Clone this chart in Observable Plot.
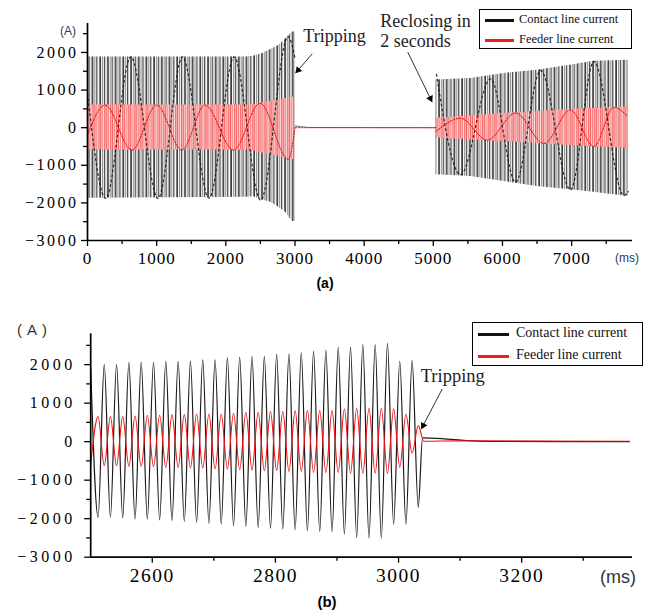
<!DOCTYPE html>
<html><head><meta charset="utf-8">
<script src="https://cdn.jsdelivr.net/npm/d3@7"></script>
<script src="https://cdn.jsdelivr.net/npm/@observablehq/plot@0.6"></script>
<style>
html,body{margin:0;padding:0;background:#fff;}
#wrap{position:relative;width:654px;height:615px;overflow:hidden;font-family:"Liberation Serif",serif;}
#wrap svg{position:absolute;left:0;}
.lbl{position:absolute;white-space:nowrap;line-height:1;}
.legend{position:absolute;border:1px solid #000;background:#fff;box-sizing:border-box;}
.legend .sw{position:absolute;height:3px;}
.legend .tx{position:absolute;white-space:nowrap;line-height:1;transform:translateY(-50%);color:#111;font-family:"Liberation Serif",serif;}
.pa [aria-label="y-axis tick label"] text{letter-spacing:2.5px;}
.pa [aria-label="x-axis tick label"] text{letter-spacing:1px;}
.pb [aria-label="y-axis tick label"] text{letter-spacing:3.5px;}
.pb [aria-label="x-axis tick label"] text{letter-spacing:1.5px;}
</style></head><body><div id="wrap"></div>
<script>
// ---------- shared ----------
const seriesNames = ["Contact line current", "Feeder line current"];
const seriesColors = ["#111111", "#ee1c1c"];
const SERIF = "Liberation Serif";

// ---------- panel (a): 0–7.8 s, trip at ~3 s, reclose at ~5 s ----------
const aXMajor = [0, 1000, 2000, 3000, 4000, 5000, 6000, 7000];
const aXMinor = [500, 1500, 2500, 3500, 4500, 5500, 6500, 7500];
const aYMajor = [-3000, -2000, -1000, 0, 1000, 2000];
const aYMinor = [-2500, -1500, -500, 500, 1500, 2500];
const aXDomain = [0, 7880];
const aYDomain = [-3000, 2770];

// envelope of the dense 50 Hz contact-line oscillation (A)
const aContactEnvT  = [0, 2300, 2400, 2530, 2650, 2770, 2870, 2960, 3005];
const aContactEnvUp = [1880, 1880, 1900, 1973, 2080, 2194, 2371, 2546, 2546];
const aContactEnvLo = [-1875, -1850, -1840, -1920, -1985, -2120, -2260, -2493, -2493];
const aContactEnv2T  = [5040, 5540, 6020, 6500, 6980, 7320, 7820];
const aContactEnv2Up = [1265, 1310, 1443, 1530, 1663, 1769, 1796];
const aContactEnv2Lo = [-1255, -1300, -1432, -1565, -1653, -1720, -1830];
// envelope of the feeder-line oscillation (A)
const aFeederEnvT  = [0, 2340, 3000];
const aFeederEnvUp = [600, 600, 822];
const aFeederEnvLo = [-595, -595, -859];
const aFeederEnv2T  = [5040, 5590, 6070, 6840, 7810];
const aFeederEnv2Up = [248, 318, 382, 470, 557];
const aFeederEnv2Lo = [-265, -326, -371, -459, -546];
const aContactTraceT  = [0, 264, 626, 1020, 1373, 1757, 2119, 2504, 2900, 3005];
const aContactTraceV  = [900, -1880, 1880, -1880, 1880, -1870, 1880, -1930, 2420, 1800];
const aContactTrace2T = [5045, 5394, 5828, 6190, 6551, 6984, 7321, 7755, 7820];
const aContactTrace2V = [1420, -1250, 1300, -1450, 1520, -1650, 1760, -1800, -1700];
const aFeederTraceT  = [0, 255, 640, 1001, 1363, 1700, 2110, 2494, 2904, 3000];
const aFeederTraceV  = [-194, 600, -595, 600, -595, 600, -595, 650, -840, 0];
const aFeederTrace2T = [5040, 5394, 5780, 6190, 6599, 6984, 7321, 7610, 7810];
const aFeederTrace2V = [-100, 250, -330, 390, -420, 470, -500, 540, 300];
// open-breaker interval
const aOpenT = [3005, 3060, 3200, 5040];
const aOpenContact = [50, 30, 5, 0];
const aOpenFeeder = [0, 0, 0, 0];
// annotations (data units)
const aNoteText = ["Tripping", "Reclosing in", "2 seconds"];
const aNoteT = [3121, 4234, 4234];
const aNoteV = [2280, 2664, 2132];
const aArrowT1 = [3249, 4631], aArrowV1 = [1965, 2007];
const aArrowT2 = [3008, 4984], aArrowV2 = [1449, 678];
const aHeadT = [3045, 4958], aHeadV = [1529, 774], aHeadRot = [220.7, 154];

// ---------- panel (b): zoom 2500–3380 ms ----------
const bXMajor = [2600, 2800, 3000, 3200];
const bXMinor = [2700, 2900, 3100, 3300];
const bYMajor = [-3000, -2000, -1000, 0, 1000, 2000];
const bYMinor = [-2500, -1500, -500, 500, 1500, 2500];
const bXDomain = [2500, 3380];
const bYDomain = [-3000, 2800];

// contact line current: successive peaks / troughs (ms, A)
const bContactT = [2500, 2512, 2522, 2532, 2542, 2552, 2562, 2572, 2582, 2592, 2602, 2612, 2622, 2632,
  2642, 2652, 2662, 2672, 2682, 2692, 2702, 2712, 2722, 2732, 2742, 2752, 2762, 2772, 2782, 2792,
  2802, 2812, 2822, 2832, 2842, 2852, 2862, 2872, 2882, 2892, 2902, 2912, 2922, 2932, 2942, 2952,
  2962, 2972, 2982, 2992, 3002, 3012, 3022, 3032, 3039, 3070, 3110, 3140, 3375];
const bContactV = [1900, -1965, 2000, -1965, 2000, -1980, 2050, -2009, 2061, -2009, 2061, -2030, 2087, -2052,
  2087, -2070, 2090, -2095, 2121, -2117, 2121, -2139, 2173, -2182, 2190, -2200, 2208, -2225, 2210, -2245,
  2260, -2268, 2280, -2290, 2303, -2312, 2346, -2330, 2370, -2340, 2450, -2398, 2450, -2485, 2519, -2502,
  2520, -2502, 2554, -2139, 2087, -2139, 2104, -1706, 96, 80, 30, 8, 0];
// feeder line current: successive troughs / peaks (ms, A)
const bFeederT = [2500, 2512, 2522, 2532, 2542, 2552, 2562, 2572, 2582, 2592, 2602, 2612, 2622, 2632,
  2642, 2652, 2662, 2672, 2682, 2692, 2702, 2712, 2722, 2732, 2742, 2752, 2762, 2772, 2782, 2792,
  2802, 2812, 2822, 2832, 2842, 2852, 2862, 2872, 2882, 2892, 2902, 2912, 2922, 2932, 2942, 2952,
  2962, 2972, 2982, 2992, 3002, 3012, 3022, 3032, 3041, 3100, 3200, 3375];
const bFeederV = [-600, 649, -623, 649, -623, 649, -641, 667, -641, 684, -649, 684, -667, 701,
  -667, 701, -684, 719, -684, 719, -710, 719, -710, 736, -727, 762, -736, 762, -753, 779,
  -753, 779, -771, 805, -771, 805, -797, 805, -797, 805, -797, 848, -823, 866, -823, 866,
  -823, 866, -823, 850, -667, 710, -300, 416, 10, 20, 15, 10];
const bNoteText = ["Tripping"];
const bNoteT = [3036], bNoteV = [1558];
const bArrowT1 = [3071], bArrowV1 = [1369], bArrowT2 = [3037], bArrowV2 = [330];
const bHeadT = [3040], bHeadV = [421], bHeadRot = [207.7];

// ---------- helpers ----------
const fmt = d3.format("d");
const wrap = document.getElementById("wrap");

function addPattern(svg, id, stripes) {
  const ns = "http://www.w3.org/2000/svg";
  let defs = svg.querySelector(":scope > defs");
  if (!defs) { defs = document.createElementNS(ns, "defs"); svg.insertBefore(defs, svg.firstChild); }
  const total = stripes.reduce((s, d) => s + d[1], 0);
  const p = document.createElementNS(ns, "pattern");
  p.setAttribute("id", id); p.setAttribute("patternUnits", "userSpaceOnUse");
  p.setAttribute("width", total); p.setAttribute("height", 10);
  let x = 0;
  for (const [c, w] of stripes) {
    const r = document.createElementNS(ns, "rect");
    r.setAttribute("x", x); r.setAttribute("y", 0); r.setAttribute("width", w); r.setAttribute("height", 10);
    r.setAttribute("fill", c); p.appendChild(r); x += w;
  }
  defs.appendChild(p);
}

function axes(xMajor, xMinor, yMajor, yMinor, xDom, yDom, xFont, yFont, yPad) {
  return [
    Plot.axisY({ticks: yMinor, tickSize: 4, tickFormat: () => "", strokeWidth: 1.3}),
    Plot.axisY({ticks: yMajor, tickSize: 6, tickPadding: yPad, tickFormat: fmt, fontSize: yFont, fontFamily: SERIF, strokeWidth: 1.3}),
    Plot.axisX({ticks: xMinor, tickSize: 4, tickFormat: () => "", strokeWidth: 1.3}),
    Plot.axisX({ticks: xMajor, tickSize: 6, tickPadding: 5, tickFormat: fmt, fontSize: xFont, fontFamily: SERIF, strokeWidth: 1.3}),
    Plot.ruleX([xDom[0]], {y1: yDom[0], y2: yDom[1], strokeWidth: 1.7, stroke: "#000"}),
    Plot.ruleY([yDom[0]], {x1: xDom[0], x2: xDom[1], strokeWidth: 1.7, stroke: "#000"})
  ];
}

function annotations(noteText, noteT, noteV, t1, v1, t2, v2, ht, hv, hr, fontSize) {
  return [
    Plot.text(noteText, {x: noteT, y: noteV, text: noteText, textAnchor: "start", lineAnchor: "bottom",
      fontSize, fontFamily: SERIF, fill: "#222"}),
    Plot.link(t1, {x1: t1, y1: v1, x2: t2, y2: v2, stroke: "#333", strokeWidth: 1}),
    Plot.dot(ht, {x: ht, y: hv, rotate: hr, symbol: "triangle", r: 2.7, fill: "#000", stroke: "none"})
  ];
}

function forceSerif(svg) {
  svg.querySelectorAll("text").forEach(t => { t.style.fontFamily = "'Liberation Serif', serif"; });
  svg.querySelectorAll("g[aria-label$='tick label']").forEach(g => { g.style.fontFamily = "'Liberation Serif', serif"; });
}

// ---------- panel (a) ----------
const plotA = Plot.plot({
  width: 654, height: 275, marginLeft: 87, marginRight: 22, marginTop: 23, marginBottom: 35,
  className: "pa",
  style: {fontFamily: "'Liberation Serif', serif", fontSize: "16px", background: "transparent", color: "#000", overflow: "visible"},
  x: {domain: aXDomain},
  y: {domain: aYDomain},
  marks: [
    Plot.areaY(aContactEnvT, {x: aContactEnvT, y1: aContactEnvLo, y2: aContactEnvUp, fill: "url(#pBlack)"}),
    Plot.areaY(aContactEnv2T, {x: aContactEnv2T, y1: aContactEnv2Lo, y2: aContactEnv2Up, fill: "url(#pBlack)"}),
    Plot.areaY(aFeederEnvT, {x: aFeederEnvT, y1: aFeederEnvLo, y2: aFeederEnvUp, fill: "url(#pRed)"}),
    Plot.areaY(aFeederEnv2T, {x: aFeederEnv2T, y1: aFeederEnv2Lo, y2: aFeederEnv2Up, fill: "url(#pRed)"}),
    Plot.line(aOpenT, {x: aOpenT, y: aOpenContact, stroke: "#555", strokeWidth: 0.9}),
    Plot.line(aOpenT, {x: aOpenT, y: aOpenFeeder, stroke: "#ee2222", strokeWidth: 1, strokeDasharray: "1.5,1.5"}),
    Plot.line(aContactTraceT, {x: aContactTraceT, y: aContactTraceV, curve: "monotone-x", stroke: "#1a1a1a", strokeOpacity: 0.85, strokeWidth: 1.3, strokeDasharray: "2,3"}),
    Plot.line(aContactTrace2T, {x: aContactTrace2T, y: aContactTrace2V, curve: "monotone-x", stroke: "#1a1a1a", strokeOpacity: 0.85, strokeWidth: 1.3, strokeDasharray: "2,3"}),
    Plot.line(aFeederTraceT, {x: aFeederTraceT, y: aFeederTraceV, curve: "monotone-x", stroke: "#e00000", strokeWidth: 1, strokeDasharray: "1.5,1.5"}),
    Plot.line(aFeederTrace2T, {x: aFeederTrace2T, y: aFeederTrace2V, curve: "monotone-x", stroke: "#e00000", strokeWidth: 1, strokeDasharray: "1.5,1.5"}),
    ...axes(aXMajor, aXMinor, aYMajor, aYMinor, aXDomain, aYDomain, 17, 16, 3),
    ...annotations(aNoteText, aNoteT, aNoteV, aArrowT1, aArrowV1, aArrowT2, aArrowV2, aHeadT, aHeadV, aHeadRot, 18)
  ]
});
addPattern(plotA, "pBlack", [["#1a1a1a",0.9],["#ffffff",1.2],["#7a7a7a",0.9],["#ececec",1],["#2e2e2e",0.9],["#c4c4c4",1],["#ffffff",0.9],["#5e5e5e",0.9]]);
addPattern(plotA, "pRed", [["#ff5252",0.9],["#ffc8c8",1.2],["#ff8585",1],["#ffe6e6",0.9],["#ff6262",0.9],["#ffb0b0",1]]);
forceSerif(plotA);
plotA.style.top = "0px";
wrap.appendChild(plotA);

// ---------- panel (b) ----------
const plotB = Plot.plot({
  width: 654, height: 300, marginLeft: 90.2, marginRight: 22, marginTop: 33.3, marginBottom: 43.3,
  className: "pb",
  style: {fontFamily: "'Liberation Serif', serif", fontSize: "16px", background: "transparent", color: "#000", overflow: "visible"},
  x: {domain: bXDomain},
  y: {domain: bYDomain},
  marks: [
    Plot.line(bContactT, {x: bContactT, y: bContactV, curve: "monotone-x", stroke: "#1a1a1a", strokeWidth: 1.2}),
    Plot.line(bFeederT, {x: bFeederT, y: bFeederV, curve: "monotone-x", stroke: "#ee1111", strokeWidth: 1.1}),
    ...axes(bXMajor, bXMinor, bYMajor, bYMinor, bXDomain, bYDomain, 19.5, 16, 9),
    ...annotations(bNoteText, bNoteT, bNoteV, bArrowT1, bArrowV1, bArrowT2, bArrowV2, bHeadT, bHeadV, bHeadRot, 18.5)
  ]
});
forceSerif(plotB);
plotB.style.top = "300px";
wrap.appendChild(plotB);

// ---------- text labels & legends (outside the SVGs) ----------
function label(text, left, top, css) {
  const d = document.createElement("div");
  d.className = "lbl"; d.textContent = text;
  d.style.left = left + "px"; d.style.top = top + "px";
  Object.assign(d.style, css || {});
  wrap.appendChild(d);
}
const sans = "'Liberation Sans', Arial, sans-serif";
label("(A)", 60, 25, {fontFamily: sans, fontSize: "12px", color: "#2a3c5e"});
label("(ms)", 615, 252, {fontFamily: sans, fontSize: "12px", color: "#2a3c5e"});
label("(a)", 325, 283, {fontFamily: sans, fontSize: "14px", fontWeight: "bold", transform: "translate(-50%,-50%)", color: "#000"});
label("(A)", 17, 322, {fontFamily: sans, fontSize: "15px", letterSpacing: "5px", color: "#333"});
label("(ms)", 600, 568, {fontFamily: sans, fontSize: "18px", color: "#333"});
label("(b)", 327, 601, {fontFamily: sans, fontSize: "15px", fontWeight: "bold", transform: "translate(-50%,-50%)", color: "#000"});

function legend(left, top, w, h, rowsY, swX0, swX1, textX, fontSize) {
  const box = document.createElement("div");
  box.className = "legend";
  Object.assign(box.style, {left: left + "px", top: top + "px", width: w + "px", height: h + "px"});
  seriesNames.forEach((name, i) => {
    const sw = document.createElement("div");
    sw.className = "sw";
    Object.assign(sw.style, {left: (swX0 - left) + "px", width: (swX1 - swX0) + "px", top: (rowsY[i] - top - 1.5) + "px", background: seriesColors[i]});
    const tx = document.createElement("div");
    tx.className = "tx"; tx.textContent = name;
    Object.assign(tx.style, {left: (textX - left) + "px", top: (rowsY[i] - top - 1) + "px", fontSize: fontSize + "px"});
    box.appendChild(sw); box.appendChild(tx);
  });
  wrap.appendChild(box);
}
legend(479, 9, 153, 40, [19.3, 39.3], 484, 513, 518, 12.5);
legend(472, 322, 171, 44, [333.3, 355], 477, 508, 515, 14);
</script></body></html>
